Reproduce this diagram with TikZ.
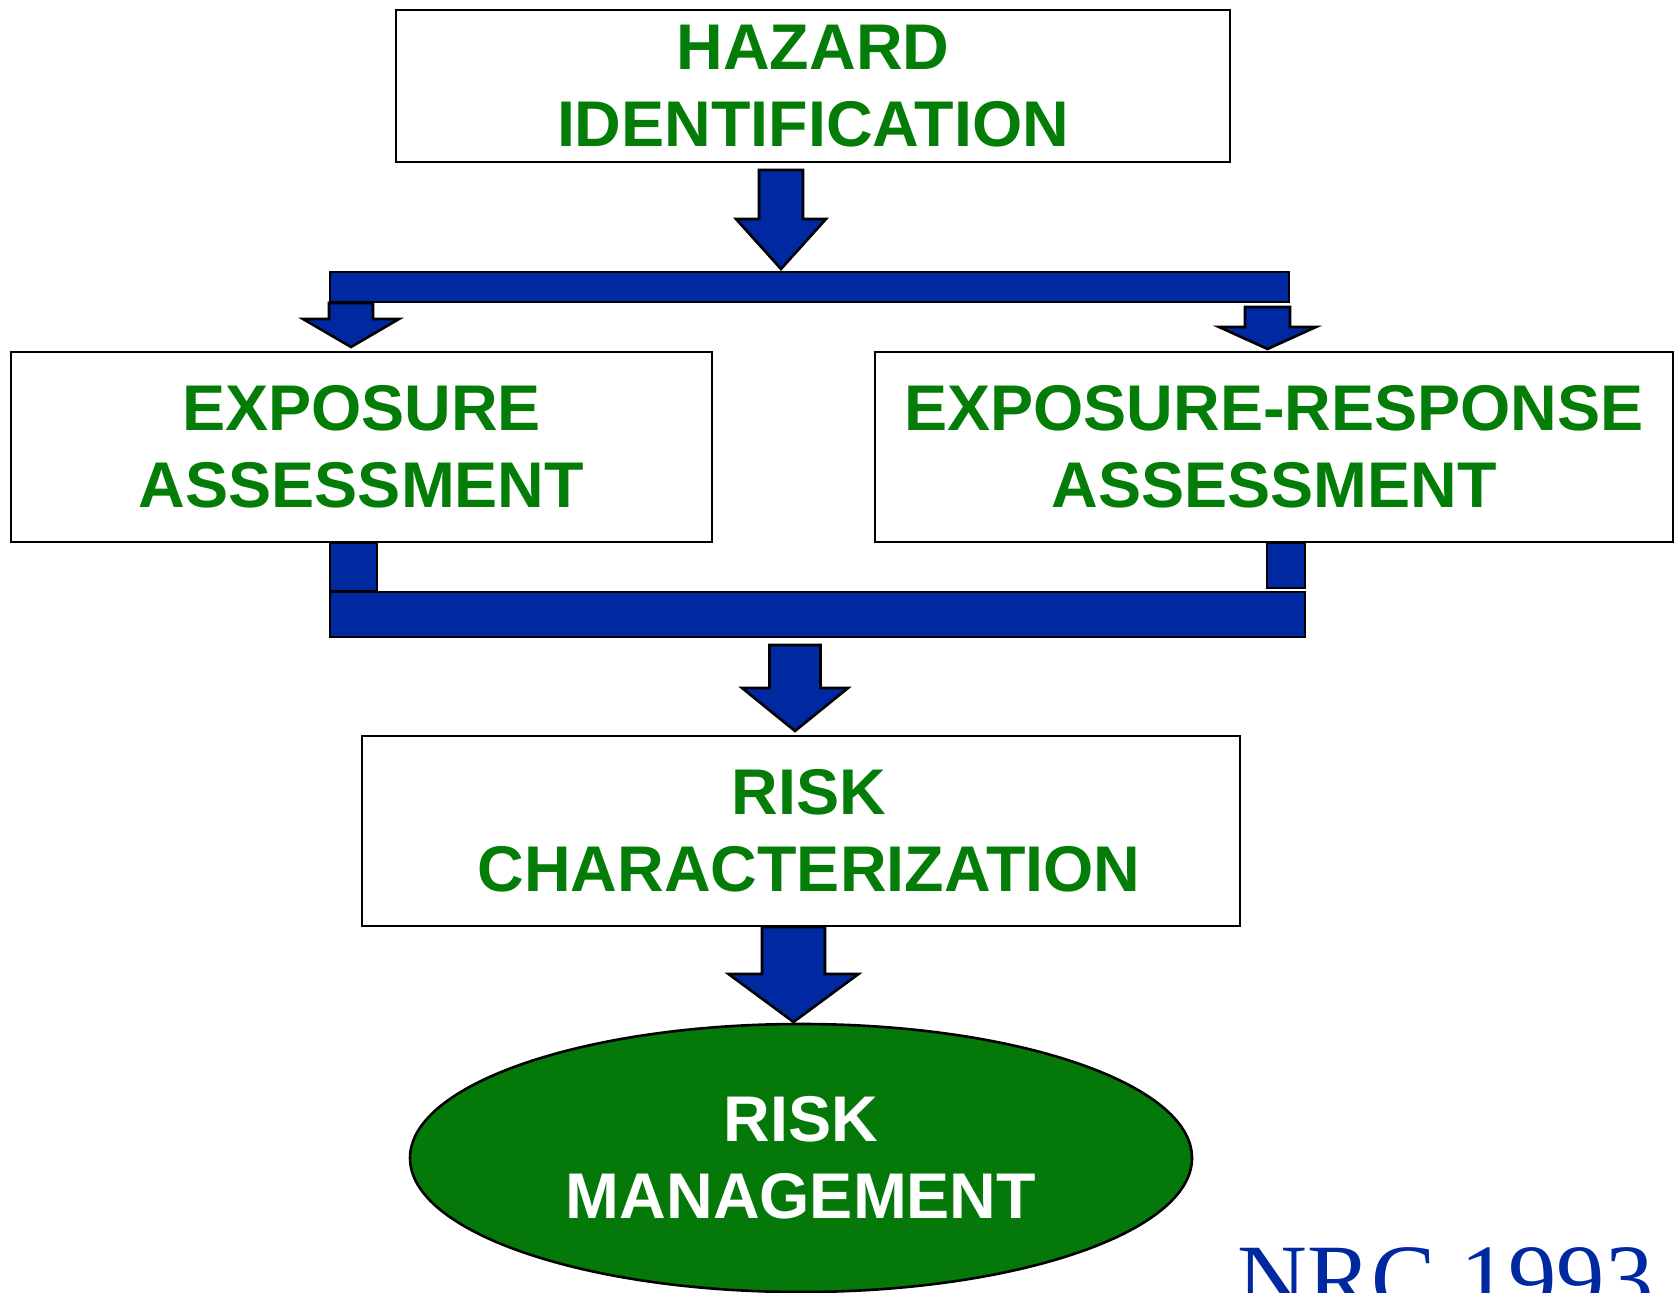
\documentclass[tikz,border=0pt]{standalone}
\usepackage{fontspec}
\usetikzlibrary{shapes.geometric}
\newfontfamily\labelfont{Liberation Sans}
\newfontfamily\citefont{Liberation Serif}
\definecolor{flowblue}{RGB}{0,40,160}
\definecolor{labelgreen}{RGB}{4,124,8}
\definecolor{ovalgreen}{RGB}{4,120,8}

% block arrow pointing down: centre x, shaft half width, head half width,
% shaft top y, head base y, tip y
\newcommand\blockarrow[6]{%
  \draw[bluepart] (#1-#2,#4) -- (#1+#2,#4) -- (#1+#2,#5) -- (#1+#3,#5)
    -- (#1,#6) -- (#1-#3,#5) -- (#1-#2,#5) -- cycle;}

\begin{document}
\begin{tikzpicture}[x=0.5pt,y=-0.5pt,
  stagebox/.style={draw=black, line width=1.3pt, fill=white, rectangle,
    inner sep=0pt, align=center, text=labelgreen,
    font=\labelfont\bfseries\fontsize{32.3}{38.5}\selectfont},
  outcome/.style={draw=black, line width=1.3pt, fill=ovalgreen, ellipse,
    inner sep=0pt, align=center, text=white,
    font=\labelfont\bfseries\fontsize{32.3}{38.5}\selectfont},
  bluepart/.style={draw=black, line width=1.3pt, fill=flowblue, line join=miter}]

\useasboundingbox (0,0) rectangle (1679,1293);
\clip (0,0) rectangle (1679,1293);

% stages
\node[stagebox, minimum width=417pt, minimum height=76pt] (haz) at (813,86)
  {HAZARD\\IDENTIFICATION};
\node[stagebox, minimum width=350.5pt, minimum height=95pt] (expo) at (361.5,447)
  {EXPOSURE\\ASSESSMENT};
\node[stagebox, minimum width=399pt, minimum height=95pt] (resp) at (1274,447)
  {EXPOSURE-RESPONSE\\ASSESSMENT};
\node[stagebox, minimum width=439pt, minimum height=95pt] (char) at (801,831)
  {\hspace*{8pt}RISK\\\hspace*{8pt}CHARACTERIZATION};
\node[outcome, minimum width=391pt, minimum height=134pt] (mgmt) at (801,1158)
  {RISK\\MANAGEMENT};

% split below hazard identification
\blockarrow{781}{22}{45}{170}{219}{269}
\draw[bluepart] (330,272) rectangle (1289,302);
\blockarrow{351}{22}{48}{303}{319}{347}
\blockarrow{1267.5}{22.5}{48.5}{307}{327}{349}

% merge into risk characterization
\draw[bluepart] (330,543) rectangle (377,591);
\draw[bluepart] (1267,543) rectangle (1305,588);
\draw[bluepart] (330,592) rectangle (1305,637);
\blockarrow{795}{25.5}{53}{645}{688}{731}

% to risk management
\blockarrow{793.5}{31.5}{65}{927}{974}{1022}

% source
\node[anchor=base west, inner sep=0pt, text=flowblue,
  font=\citefont\fontsize{48.3}{56}\selectfont] (src) at (1237,1311) {NRC 1993};
\end{tikzpicture}
\end{document}
